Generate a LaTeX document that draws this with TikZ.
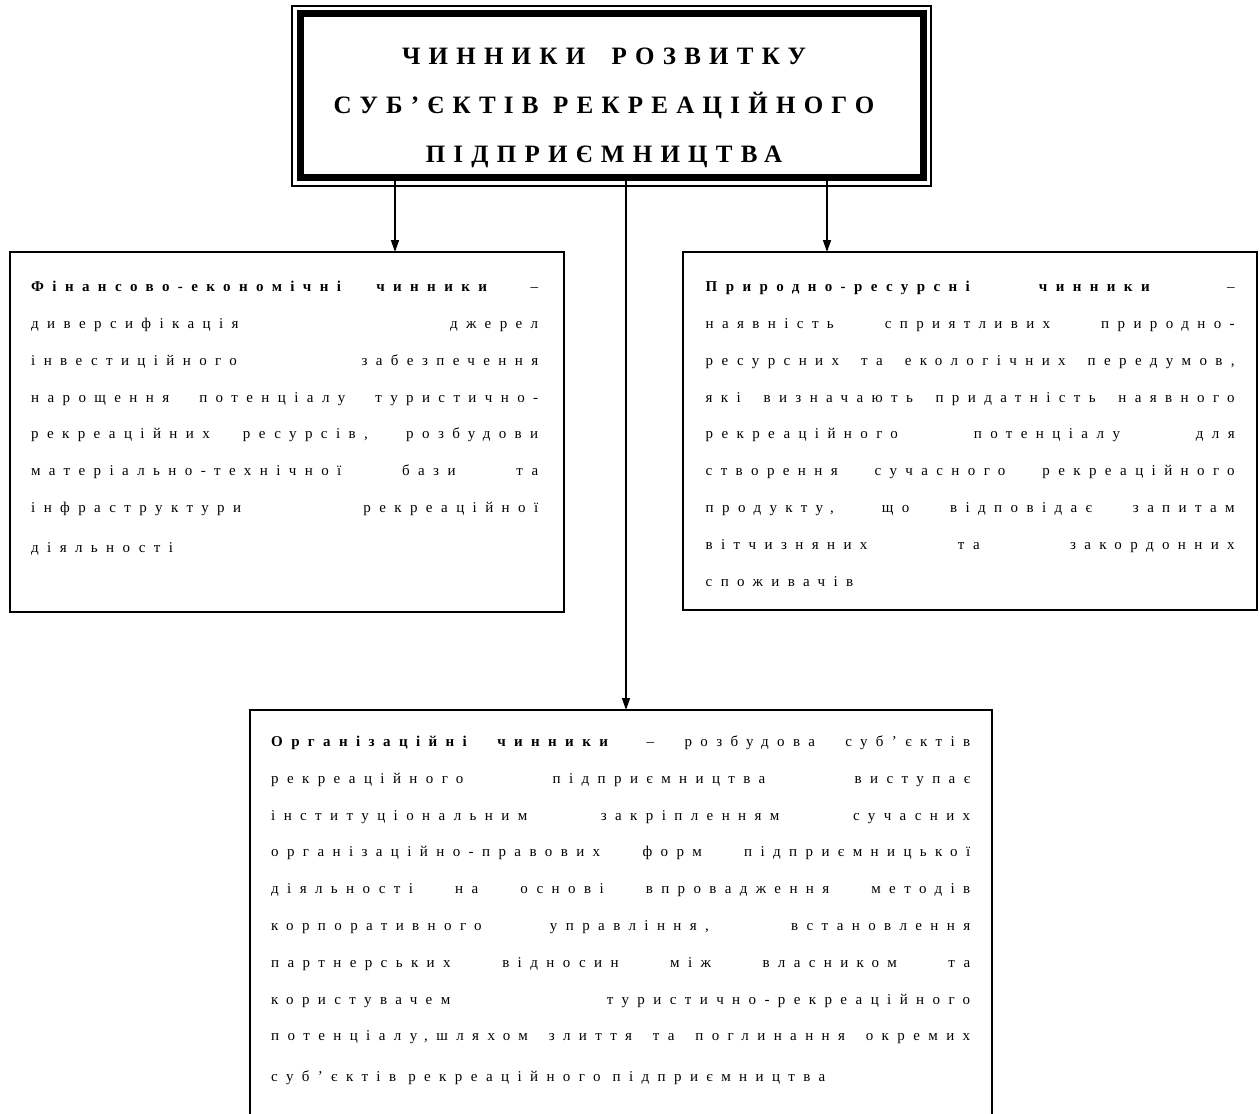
\documentclass[tikz,border=0pt]{standalone}
\usepackage{fontspec}
\setmainfont{Liberation Serif}[LetterSpace=56]
\newfontfamily\headfont{Liberation Serif}[LetterSpace=33]
\usetikzlibrary{arrows.meta}
\hyphenpenalty=10000 \exhyphenpenalty=10000 \tolerance=10000

\begin{document}
\begin{tikzpicture}[x=1pt, y=-1pt, link/.style={-{Triangle[length=12pt, width=8pt]}, line width=1.5pt}, factor/.style={draw, line width=2.6pt, inner sep=0pt, outer sep=0pt, anchor=north west}, body/.style={anchor=base west, inner sep=0pt, align=justify, font=\fontsize{15}{36.8}\selectfont}, head/.style={anchor=base, inner sep=0pt, align=center, font=\headfont\bfseries\fontsize{25}{49}\selectfont}]

\clip (0,0) rectangle (1260,1113);
\node[factor, line width=7pt, minimum width=623pt, minimum height=163pt] (title) at (300,14) {};
\draw[line width=1.3pt] ([shift={(-8,-8)}]title.north west) rectangle ([shift={(8,9)}]title.south east);
\node[head] (titletext) at (604,162) {ЧИННИКИ\hspace{12pt} РОЗВИТКУ\\СУБ’ЄКТІВ РЕКРЕАЦІЙНОГО\\ПІДПРИЄМНИЦТВА};

\node[factor, minimum width=554pt, minimum height=360pt] (fin) at (10,252) {};
\node[factor, minimum width=574pt, minimum height=358pt] (nat) at (683,252) {};
\node[factor, minimum width=742pt, minimum height=440pt] (org) at (250,710) {};

\node[body, text width=507pt] (fintext) at ([shift={(21,39.7)}]fin.north west) {\textbf{Фінансово-економічні чинники} –\linebreak диверсифікація джерел\linebreak інвестиційного забезпечення\linebreak нарощення потенціалу туристично-\linebreak рекреаційних ресурсів, розбудови\linebreak матеріально-технічної бази та\linebreak інфраструктури рекреаційної\vadjust{\vskip3pt}\linebreak діяльності};
\node[body, text width=529pt] (nattext) at ([shift={(22.5,39.7)}]nat.north west) {\textbf{Природно-ресурсні чинники} –\linebreak наявність сприятливих природно-\linebreak ресурсних та екологічних передумов,\linebreak які визначають придатність наявного\linebreak рекреаційного потенціалу для\linebreak створення сучасного рекреаційного\linebreak продукту, що відповідає запитам\linebreak вітчизняних та закордонних\linebreak споживачів};
\node[body, text width=699pt] (orgtext) at ([shift={(21,36.5)}]org.north west) {\textbf{Організаційні чинники} – розбудова суб’єктів\linebreak рекреаційного підприємництва виступає\linebreak інституціональним закріпленням сучасних\linebreak організаційно-правових форм підприємницької\linebreak діяльності на основі впровадження методів\linebreak корпоративного управління, встановлення\linebreak партнерських відносин між власником та\linebreak користувачем туристично-рекреаційного\linebreak потенціалу,шляхом злиття та поглинання окремих\vadjust{\vskip4pt}\linebreak суб’єктів рекреаційного підприємництва};

\coordinate (finTap) at (395,0); \coordinate (orgTap) at (626,0); \coordinate (natTap) at (827,0);
\draw[link] (finTap |- title.south) -- (finTap |- fin.north);
\draw[link] (orgTap |- title.south) -- (orgTap |- org.north);
\draw[link] (natTap |- title.south) -- (natTap |- nat.north);
\end{tikzpicture}
\end{document}
